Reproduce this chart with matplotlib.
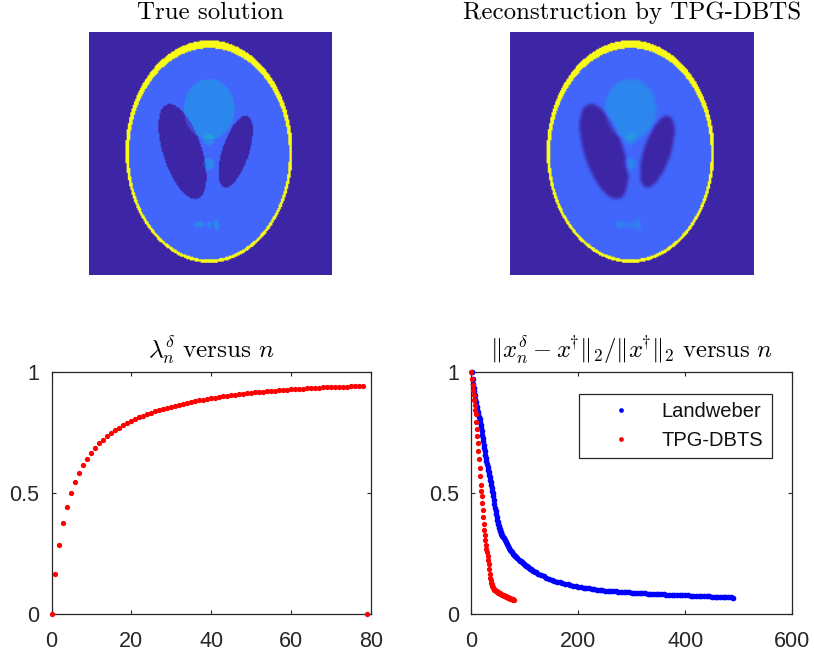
import numpy as np
import matplotlib
matplotlib.use('Agg')
import matplotlib.pyplot as plt
from matplotlib.colors import LinearSegmentedColormap

W, H = 814, 658

# Shepp-Logan ellipses: intensity, a, b, x0, y0, phi
ell_value = [1.0, -0.8, -0.2, -0.2, 0.1, 0.1, 0.1, 0.1, 0.1, 0.1]
ell_a = [0.69, 0.6624, 0.11, 0.16, 0.21, 0.046, 0.046, 0.046, 0.023, 0.023]
ell_b = [0.92, 0.874, 0.31, 0.41, 0.25, 0.046, 0.046, 0.023, 0.023, 0.046]
ell_x0 = [0, 0, 0.22, -0.22, 0, 0, 0, -0.08, 0, 0.06]
ell_y0 = [0, -0.0184, 0, 0, 0.35, 0.1, -0.1, -0.605, -0.606, -0.605]
ell_phi = [0, 0, -18, 18, 0, 0, 0, 0, 0, 0]

lambda_n = [0, .165, .284, .374, .444, .499, .544, .581, .614, .641,
            .665, .687, .705, .721, .735, .747, .76, .77, .78, .79,
            .798, .806, .813, .82, .826, .832, .838, .843, .848, .853,
            .857, .861, .865, .869, .873, .876, .88, .883, .886, .889,
            .892, .894, .897, .899, .902, .904, .906, .908, .91, .912,
            .914, .916, .917, .919, .92, .922, .923, .925, .926, .927,
            .928, .929, .93, .931, .932, .933, .934, .935, .936, .937,
            .938, .938, .939, .94, .94, .941, .941, .942, .942, 0]

err_tpg = [1, .97, .945, .925, .905, .885, .865, .845, .825, .795,
           .765, .735, .705, .675, .64, .605, .57, .535, .51, .486,
           .459, .43, .40, .373, .348, .326, .306, .285, .27, .255,
           .24, .225, .205, .185, .165, .15, .14, .13, .122, .116,
           .111, .107, .103, .101, .099, .097, .095, .093, .091, .089,
           .088, .087, .086, .085, .084, .083, .082, .08, .079, .078,
           .077, .076, .075, .074, .073, .072, .071, .07, .069, .068,
           .067, .066, .065, .064, .063, .062, .061, .06, .059, .058]

n_land = list(range(1, 61)) + list(range(62, 121, 2)) + list(range(125, 495, 5))
err_land = [1.0, .972, .95, .935, .92, .905, .89, .877, .865, .855,
            .845, .835, .825, .815, .805, .793, .78, .768, .755, .741,
            .727, .714, .70, .686, .672, .658, .645, .632, .62, .608,
            .597, .586, .575, .565, .555, .544, .533, .522, .51, .499,
            .487, .471, .455, .44, .425, .412, .40, .39, .38, .371,
            .362, .356, .35, .344, .338, .332, .327, .322, .318, .313,
            .304, .296, .288, .28, .272, .266, .26, .255, .25, .245,
            .24, .235, .23, .225, .221, .217, .213, .209, .206, .203,
            .20, .197, .194, .19, .187, .184, .181, .178, .175, .172,
            .166, .16, .155, .15, .146, .142, .138,
            .134, .131, .128, .125, .122, .12, .117, .115, .113, .111,
            .109, .107, .106, .104, .103, .101, .10, .099, .097, .096,
            .095, .094, .093, .092, .091, .0905, .09, .089, .088, .0875,
            .087, .086, .0855, .085, .084, .0835, .083, .0825, .082, .0815,
            .081, .0805, .08, .0795, .079, .0785, .078, .0775, .077, .0765,
            .076, .0755, .075, .0745, .074, .0735, .073, .0725, .072, .0715,
            .071, .0705, .07, .0695, .069, .0685, .068]

plt.rcParams['font.family'] = ['Liberation Sans', 'DejaVu Sans']
plt.rcParams['mathtext.fontset'] = 'cm'

parula = LinearSegmentedColormap.from_list('parula_like', [
    (0.0, '#3d26a6'), (0.2, '#4266fb'), (0.3, '#2b88ee'),
    (0.4, '#259fd9'), (1.0, '#f9fb15')])

size = 200
xs = np.linspace(-1, 1, size) + 0.012
ys = np.linspace(1, -1, size) - 0.016
x, y = np.meshgrid(xs, ys)


def phantom():
    img = np.zeros_like(x)
    for v, a, b, x0, y0, phi in zip(ell_value, ell_a, ell_b, ell_x0, ell_y0, ell_phi):
        t = np.deg2rad(phi)
        u = (x - x0) * np.cos(t) + (y - y0) * np.sin(t)
        w = -(x - x0) * np.sin(t) + (y - y0) * np.cos(t)
        img[(u / a) ** 2 + (w / b) ** 2 <= 1] += v
    return img


def smooth(img, passes):
    kernel = np.array([0.25, 0.5, 0.25])
    for _ in range(passes):
        img = np.apply_along_axis(lambda r: np.convolve(r, kernel, mode='same'), 0, img)
        img = np.apply_along_axis(lambda r: np.convolve(r, kernel, mode='same'), 1, img)
    return img


def px_axes(fig, left, right, top, bottom):
    return fig.add_axes([left / W, 1 - bottom / H, (right - left) / W, (bottom - top) / H])


def style_axes(ax, xticks, xlim):
    ax.set_xlim(*xlim)
    ax.set_ylim(0, 1)
    ax.set_xticks(xticks)
    ax.set_yticks([0, 0.5, 1])
    ax.set_yticklabels(['0', '0.5', '1'])
    ax.tick_params(direction='in', top=True, right=True, length=3, width=0.8,
                   labelsize=15.5, colors='#262626')
    ax.tick_params(axis='x', pad=12)
    ax.tick_params(axis='y', pad=8.7)
    for s in ax.spines.values():
        s.set_linewidth(0.9)
        s.set_color('#262626')


fig = plt.figure(figsize=(W / 100, H / 100), dpi=100)

truth = phantom()
ax1 = px_axes(fig, 89, 332, 32, 275)
ax1.imshow(truth, cmap=parula, vmin=0, vmax=1, interpolation='bilinear', aspect='auto')
ax1.axis('off')
ax1.set_title('True solution', family='cmr10', fontsize=17.9, pad=9.5)

# reconstruction keeps the skull sharp, the inner features come out a bit blurred
inner = (x / 0.69) ** 2 + (y / 0.92) ** 2 < 0.8
recon = np.where(inner, smooth(truth, 3), truth)
ax2 = px_axes(fig, 510, 754, 32, 275)
ax2.imshow(recon, cmap=parula, vmin=0, vmax=1, interpolation='bilinear', aspect='auto')
ax2.axis('off')
ax2.set_title('Reconstruction by TPG-DBTS', family='cmr10', fontsize=17.9, pad=9.5)

ax3 = px_axes(fig, 51.5, 371, 372, 614)
ax3.plot(range(len(lambda_n)), lambda_n, 'o', color='#ff0000', ms=3.8, mew=0, clip_on=False, zorder=5)
style_axes(ax3, [0, 20, 40, 60, 80], (0, 80))
ax3.set_title(r'$\lambda_n^\delta\ \mathrm{versus}\ n$', fontsize=18.2, pad=10.5)

ax4 = px_axes(fig, 471.5, 792, 372, 614)
ax4.plot(n_land, err_land, 'o', color='#0000ff', ms=4.1, mew=0, clip_on=False, zorder=4)
ax4.plot(range(len(err_tpg)), err_tpg, 'o', color='#ff0000', ms=3.8, mew=0, clip_on=False, zorder=5)
style_axes(ax4, [0, 200, 400, 600], (0, 600))
ax4.set_title(r'$\Vert x_n^\delta - x^{\!\!\dagger}\!\Vert_2/\Vert x^{\!\!\dagger}\!\Vert_2\ \mathrm{versus}\ n$',
              fontsize=17.8, pad=10)
handles = [plt.Line2D([], [], ls='', marker='o', color='#0000ff', ms=3.4, mew=0),
           plt.Line2D([], [], ls='', marker='o', color='#ff0000', ms=3.4, mew=0)]
leg = ax4.legend(handles, ['Landweber', 'TPG-DBTS'], loc='upper left',
                 bbox_to_anchor=((579 - 471.5) / 320.5, 1 - (394 - 372) / 242),
                 fontsize=14.5, frameon=True, fancybox=False, framealpha=1,
                 edgecolor='#262626', borderaxespad=0, labelspacing=0.47,
                 handlelength=3.4, handletextpad=0.3, borderpad=0.41, labelcolor='#111111')
leg.get_frame().set_linewidth(0.9)

fig.savefig('out.png', dpi=100)
